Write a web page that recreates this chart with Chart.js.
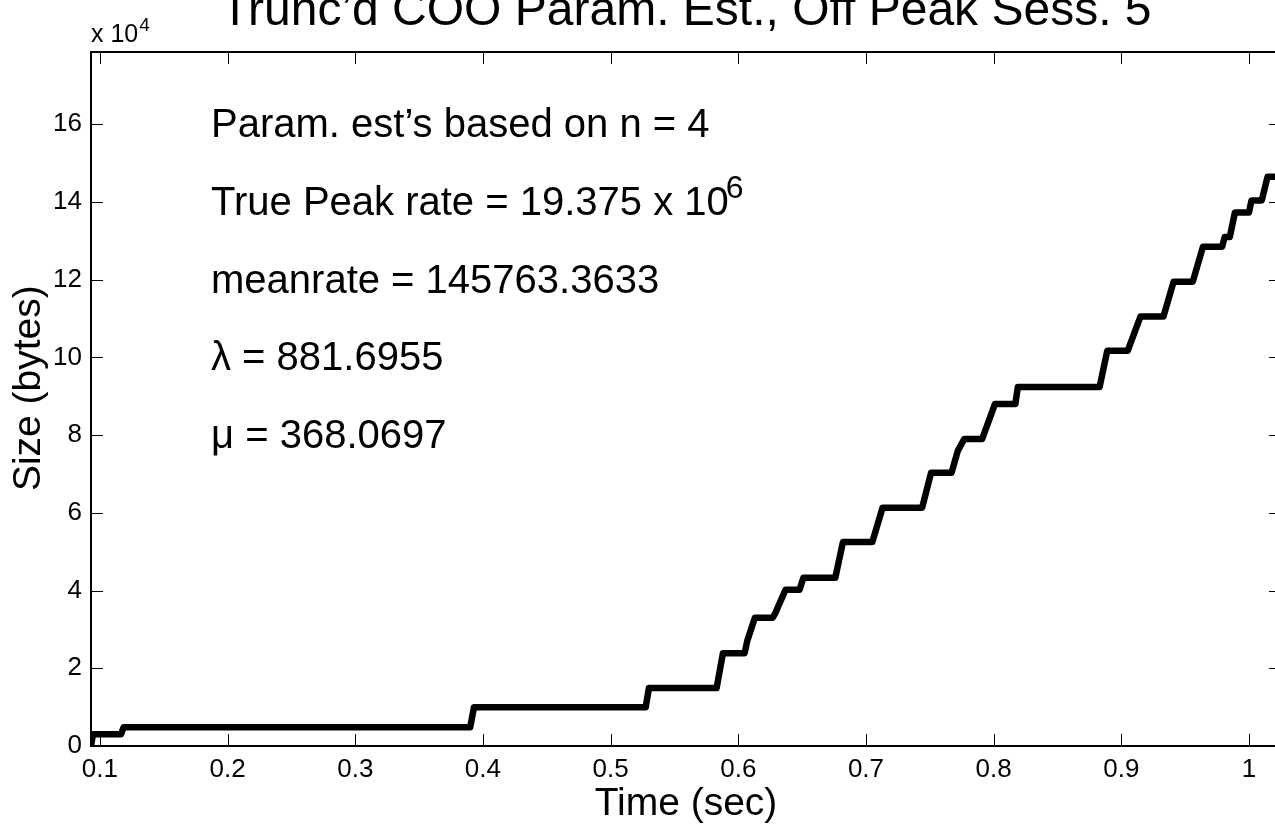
<!DOCTYPE html>
<html>
<head>
<meta charset="utf-8">
<script src="https://cdn.jsdelivr.net/npm/chart.js@4.4.1/dist/chart.umd.min.js"></script>
<style>
  html, body { margin: 0; padding: 0; background: #fff; overflow: hidden; }
  canvas { display: block; }
</style>
</head>
<body>
<canvas id="grafico" width="1290" height="827"></canvas>
<script>
// dados (tempo em s, tamanho acumulado em bytes)
const timeSec = [0.0930, 0.0945, 0.1165, 0.1185, 0.3900, 0.3930, 0.5275, 0.5300, 0.5830, 0.5880,
                 0.6050, 0.6070, 0.6130, 0.6270, 0.6290, 0.6370, 0.6480, 0.6510, 0.6760, 0.6820,
                 0.7050, 0.7130, 0.7440, 0.7510, 0.7670, 0.7720, 0.7770, 0.7910, 0.8010, 0.8170,
                 0.8190, 0.8830, 0.8890, 0.9050, 0.9150, 0.9330, 0.9410, 0.9560, 0.9640, 0.9790,
                 0.9810, 0.9850, 0.9890, 1.0000, 1.0020, 1.0100, 1.0146, 1.0230];
const sizeBytes = [0, 3000, 3000, 4800, 4800, 10000, 10000, 14900, 14900, 23900,
                   23900, 27000, 33000, 33000, 34200, 40200, 40200, 43300, 43300, 52500,
                   52500, 61300, 61300, 70300, 70300, 76000, 79000, 79000, 88000, 88000,
                   92400, 92400, 101700, 101700, 110500, 110500, 119500, 119500, 128500, 128500,
                   131000, 131000, 137300, 137300, 140400, 140400, 146500, 146500];

const xTickValues = [0.1, 0.2, 0.3, 0.4, 0.5, 0.6, 0.7, 0.8, 0.9, 1.0];
const yTickValues = [0, 20000, 40000, 60000, 80000, 100000, 120000, 140000, 160000];

const noteLines = ['Param. est\u2019s based on n = 4', 'True Peak rate = 19.375 x 10',
                   'meanrate = 145763.3633', '\u03bb = 881.6955', '\u03bc = 368.0697'];
const noteYValues = [160000, 140000, 120000, 100000, 80000];
const noteX = 0.187;

const xMin = 0.093, xMax = 1.0251;
const yMin = 0, yMax = 178600;

const FONT = '"Liberation Sans", Arial, Helvetica, sans-serif';

// caixa estilo MATLAB com ticks para dentro nos 4 lados
const molduraPlugin = {
    id: 'moldura',
    afterDraw(chart) {
        const { ctx, chartArea: a, scales: { x, y } } = chart;
        ctx.save();
        ctx.strokeStyle = '#000';
        ctx.lineWidth = 1;
        ctx.beginPath();
        x.ticks.forEach(t => {
            const px = Math.round(x.getPixelForValue(t.value)) + 0.5;
            ctx.moveTo(px, a.bottom); ctx.lineTo(px, a.bottom - 12);
            ctx.moveTo(px, a.top); ctx.lineTo(px, a.top + 12);
        });
        y.ticks.forEach(t => {
            const py = Math.round(y.getPixelForValue(t.value)) + 0.5;
            ctx.moveTo(a.left, py); ctx.lineTo(a.left + 12, py);
            ctx.moveTo(a.right, py); ctx.lineTo(a.right - 12, py);
        });
        ctx.stroke();
        ctx.lineWidth = 2;
        ctx.strokeRect(a.left, a.top, a.right - a.left, a.bottom - a.top);
        ctx.restore();
    }
};

// textos do gráfico (multiplicador do eixo y e parâmetros estimados)
const textosPlugin = {
    id: 'textos',
    afterDraw(chart) {
        const { ctx, chartArea: a, scales: { x, y } } = chart;
        ctx.save();
        ctx.fillStyle = '#000';
        ctx.textAlign = 'left';
        ctx.textBaseline = 'alphabetic';

        ctx.font = '25px ' + FONT;
        ctx.fillText('x 10', a.left, 42);
        const w10 = ctx.measureText('x 10').width;
        ctx.font = '19px ' + FONT;
        ctx.fillText('4', a.left + w10 + 1, 31);

        const px = x.getPixelForValue(noteX);
        noteLines.forEach((txt, i) => {
            const base = y.getPixelForValue(noteYValues[i]) + 13;
            ctx.font = '40px ' + FONT;
            ctx.fillText(txt, px, base);
            if (i === 1) {
                const w = ctx.measureText(txt).width;
                ctx.font = '32px ' + FONT;
                ctx.fillText('6', px + w - 3, base - 17);
            }
        });
        ctx.restore();
    }
};

const ctx = document.getElementById('grafico').getContext('2d');
const grafico = new Chart(ctx, {
    type: 'scatter',
    data: {
        datasets: [{
            data: timeSec.map((t, i) => ({ x: t, y: sizeBytes[i] })),
            showLine: true,
            borderColor: '#000',
            backgroundColor: '#000',
            borderWidth: 6.5,
            borderJoinStyle: 'round',
            borderCapStyle: 'round',
            pointRadius: 0,
            tension: 0
        }]
    },
    options: {
        responsive: false,
        animation: false,
        devicePixelRatio: 1,
        layout: { padding: { left: 0, right: 9, top: 0, bottom: 0 } },
        plugins: {
            legend: { display: false },
            tooltip: { enabled: false },
            title: {
                display: true,
                text: 'Trunc\u2019d COO Param. Est., Off Peak Sess. 5',
                color: '#000',
                fullSize: false,
                font: { family: FONT, size: 48, weight: 'normal', lineHeight: 1 },
                padding: { top: -12, bottom: 16 }
            }
        },
        scales: {
            x: {
                type: 'linear',
                position: 'bottom',
                min: xMin,
                max: xMax,
                grid: { display: false, drawTicks: false },
                border: { display: false },
                afterBuildTicks: s => { s.ticks = xTickValues.map(v => ({ value: v })); },
                afterFit: s => { s.height = 81; },
                ticks: {
                    color: '#000',
                    padding: 8,
                    maxRotation: 0,
                    autoSkip: false,
                    font: { family: FONT, size: 26 },
                    callback: v => String(Number(v.toFixed(2)))
                },
                title: {
                    display: true,
                    text: 'Time (sec)',
                    color: '#000',
                    font: { family: FONT, size: 39, lineHeight: 1 },
                    padding: { top: 0, bottom: 3 }
                }
            },
            y: {
                type: 'linear',
                min: yMin,
                max: yMax,
                grid: { display: false, drawTicks: false },
                border: { display: false },
                afterBuildTicks: s => { s.ticks = yTickValues.map(v => ({ value: v })); },
                afterFit: s => { s.width = 91; },
                ticks: {
                    color: '#000',
                    padding: 9,
                    autoSkip: false,
                    font: { family: FONT, size: 26 },
                    callback: v => String(v / 10000)
                },
                title: {
                    display: true,
                    text: '  Size (bytes)',
                    color: '#000',
                    font: { family: FONT, size: 39, lineHeight: 1 },
                    padding: { top: 10, bottom: 0 }
                }
            }
        }
    },
    plugins: [molduraPlugin, textosPlugin]
});
</script>
</body>
</html>
